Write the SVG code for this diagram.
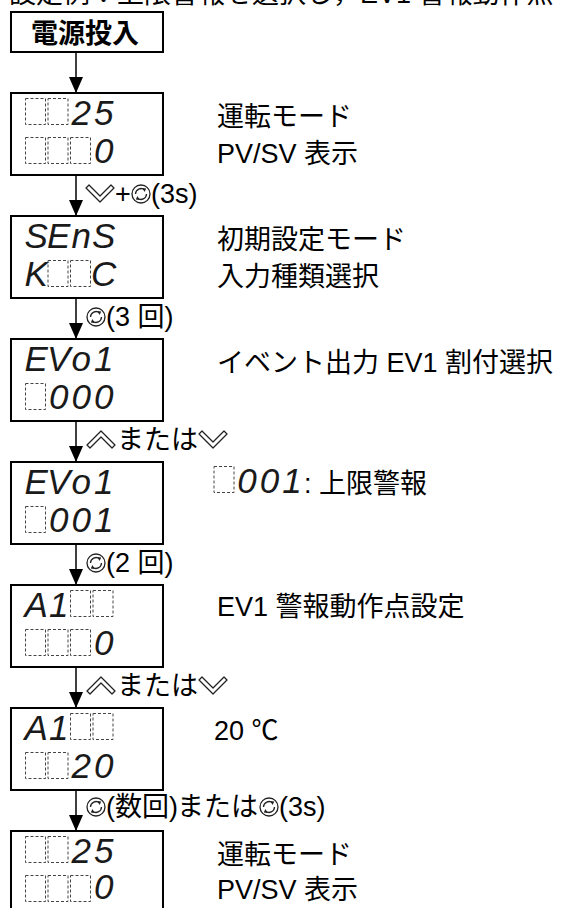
<svg xmlns="http://www.w3.org/2000/svg" xmlns:xlink="http://www.w3.org/1999/xlink" width="564" height="908" viewBox="0 0 564 908">
<style>
.bx{fill:#fff;stroke:#000;stroke-width:2}
.cell{fill:none;stroke:#444;stroke-width:1;stroke-dasharray:3 2}
.seg{font-family:"Liberation Sans",Arial,sans-serif;font-style:italic;font-size:35px;fill:#1a1a1a;text-anchor:middle}
.lb{font-family:"Liberation Sans","Noto Sans CJK JP",sans-serif;font-size:27px;fill:#000}
.ic{fill:none;stroke:#222;stroke-width:1.3;stroke-linejoin:round}
.cn{stroke:#000;stroke-width:1.5;fill:none}
</style>
<defs>
<marker id="ah" markerUnits="userSpaceOnUse" markerWidth="16" markerHeight="14" refX="16" refY="7" orient="auto" viewBox="0 0 16 14">
<path d="M0,0 L16,7 L0,14 Z" fill="#000"/>
</marker>
<g id="dn"><polygon class="ic" points="0,3 3,0 14,11 25,0 28,3 14,17"/></g>
<g id="up"><polygon class="ic" points="0,14 3,17 14,6 25,17 28,14 14,0"/></g>
<g id="rot">
<circle class="ic" cx="10" cy="10" r="9"/>
<path class="ic" d="M4.5,10 A5.5,5.5 0 0 1 13.6,5.9"/>
<path class="ic" d="M15.5,10 A5.5,5.5 0 0 1 6.4,14.1"/>
<path d="M11.4,4 L15.2,4.6 L13.6,8 Z" fill="#222"/>
<path d="M8.6,16 L4.8,15.4 L6.4,12 Z" fill="#222"/>
</g>
<rect id="c" class="cell" x="0" y="0" width="20" height="26"/>
</defs>

<text class="lb" x="9" y="3">設定例：上限警報を選択し，EV1 警報動作点</text>

<g id="connectors">
<line class="cn" x1="76" y1="52" x2="76" y2="93" marker-end="url(#ah)"/>
<line class="cn" x1="76" y1="175" x2="76" y2="216" marker-end="url(#ah)"/>
<line class="cn" x1="76" y1="298" x2="76" y2="339" marker-end="url(#ah)"/>
<line class="cn" x1="76" y1="421" x2="76" y2="462" marker-end="url(#ah)"/>
<line class="cn" x1="76" y1="544" x2="76" y2="585" marker-end="url(#ah)"/>
<line class="cn" x1="76" y1="667" x2="76" y2="708" marker-end="url(#ah)"/>
<line class="cn" x1="76" y1="790" x2="76" y2="831" marker-end="url(#ah)"/>
<g id="lab1"><use href="#dn" x="86" y="185"/><text class="lb" x="115" y="203">+</text><use href="#rot" x="131" y="184"/><text class="lb" x="151" y="203">(3s)</text></g>
<g id="lab2"><use href="#rot" x="86" y="307"/><text class="lb" x="106" y="326">(3 回)</text></g>
<g id="lab3"><use href="#up" x="87" y="431"/><text class="lb" x="117" y="449">または</text><use href="#dn" x="199" y="431"/></g>
<g id="lab4"><use href="#rot" x="86" y="553"/><text class="lb" x="106" y="572">(2 回)</text></g>
<g id="lab5"><use href="#up" x="87" y="677"/><text class="lb" x="117" y="695">または</text><use href="#dn" x="199" y="677"/></g>
<g id="lab6"><use href="#rot" x="86" y="797"/><text class="lb" x="106" y="816">(数回)</text><text class="lb" x="177" y="816">または</text><use href="#rot" x="259" y="797"/><text class="lb" x="279" y="816">(3s)</text></g>
</g>

<g id="n0">
<rect class="bx" x="11" y="12" width="152" height="40"/>
<text class="lb" x="85" y="43" text-anchor="middle" style="font-weight:bold">電源投入</text>
</g>

<g id="n1" transform="translate(0,93)">
<rect class="bx" x="11" y="0" width="152" height="82"/>
<use href="#c" x="25.5" y="5.5"/><use href="#c" x="48" y="5.5"/>
<text class="seg" x="81.25" y="32">2</text><text class="seg" x="103.75" y="32">5</text>
<use href="#c" x="25.5" y="44.5"/><use href="#c" x="48" y="44.5"/><use href="#c" x="70.5" y="44.5"/>
<text class="seg" x="103.75" y="70">0</text>
<text class="lb" x="217" y="33">運転モード</text>
<text class="lb" x="217" y="70">PV/SV 表示</text>
</g>

<g id="n2" transform="translate(0,216)">
<rect class="bx" x="11" y="0" width="152" height="82"/>
<text class="seg" x="36.25" y="32">S</text><text class="seg" x="58.75" y="32">E</text><text class="seg" x="81.25" y="32">n</text><text class="seg" x="103.75" y="32">S</text>
<text class="seg" x="36.25" y="70">K</text>
<use href="#c" x="48" y="44.5"/><use href="#c" x="70.5" y="44.5"/>
<text class="seg" x="103.75" y="70">C</text>
<text class="lb" x="217" y="33">初期設定モード</text>
<text class="lb" x="217" y="70">入力種類選択</text>
</g>

<g id="n3" transform="translate(0,339)">
<rect class="bx" x="11" y="0" width="152" height="82"/>
<text class="seg" x="36.25" y="32">E</text><text class="seg" x="58.75" y="32">V</text><text class="seg" x="81.25" y="32">o</text><text class="seg" x="103.75" y="32">1</text>
<use href="#c" x="25.5" y="44.5"/>
<text class="seg" x="58.75" y="70">0</text><text class="seg" x="81.25" y="70">0</text><text class="seg" x="103.75" y="70">0</text>
<text class="lb" x="217" y="33">イベント出力 EV1 割付選択</text>
</g>

<g id="n4" transform="translate(0,462)">
<rect class="bx" x="11" y="0" width="152" height="82"/>
<text class="seg" x="36.25" y="32">E</text><text class="seg" x="58.75" y="32">V</text><text class="seg" x="81.25" y="32">o</text><text class="seg" x="103.75" y="32">1</text>
<use href="#c" x="25.5" y="44.5"/>
<text class="seg" x="58.75" y="70">0</text><text class="seg" x="81.25" y="70">0</text><text class="seg" x="103.75" y="70">1</text>
<use href="#c" x="214" y="4.5"/>
<text class="seg" x="247" y="31">0</text><text class="seg" x="269.5" y="31">0</text><text class="seg" x="292" y="31">1</text>
<text class="lb" x="304" y="31">: 上限警報</text>
</g>

<g id="n5" transform="translate(0,585)">
<rect class="bx" x="11" y="0" width="152" height="82"/>
<text class="seg" x="36.25" y="32">A</text><text class="seg" x="58.75" y="32">1</text>
<use href="#c" x="70.5" y="5.5"/><use href="#c" x="93" y="5.5"/>
<use href="#c" x="25.5" y="44.5"/><use href="#c" x="48" y="44.5"/><use href="#c" x="70.5" y="44.5"/>
<text class="seg" x="103.75" y="70">0</text>
<text class="lb" x="217" y="31">EV1 警報動作点設定</text>
</g>

<g id="n6" transform="translate(0,708)">
<rect class="bx" x="11" y="0" width="152" height="82"/>
<text class="seg" x="36.25" y="32">A</text><text class="seg" x="58.75" y="32">1</text>
<use href="#c" x="70.5" y="5.5"/><use href="#c" x="93" y="5.5"/>
<use href="#c" x="25.5" y="44.5"/><use href="#c" x="48" y="44.5"/>
<text class="seg" x="81.25" y="70">2</text><text class="seg" x="103.75" y="70">0</text>
<text class="lb" x="214" y="32">20 ℃</text>
</g>

<g id="n7" transform="translate(0,831)">
<rect class="bx" x="11" y="0" width="152" height="82"/>
<use href="#c" x="25.5" y="5.5"/><use href="#c" x="48" y="5.5"/>
<text class="seg" x="81.25" y="32">2</text><text class="seg" x="103.75" y="32">5</text>
<use href="#c" x="25.5" y="44.5"/><use href="#c" x="48" y="44.5"/><use href="#c" x="70.5" y="44.5"/>
<text class="seg" x="103.75" y="68">0</text>
<text class="lb" x="217" y="33">運転モード</text>
<text class="lb" x="217" y="68">PV/SV 表示</text>
</g>
</svg>
